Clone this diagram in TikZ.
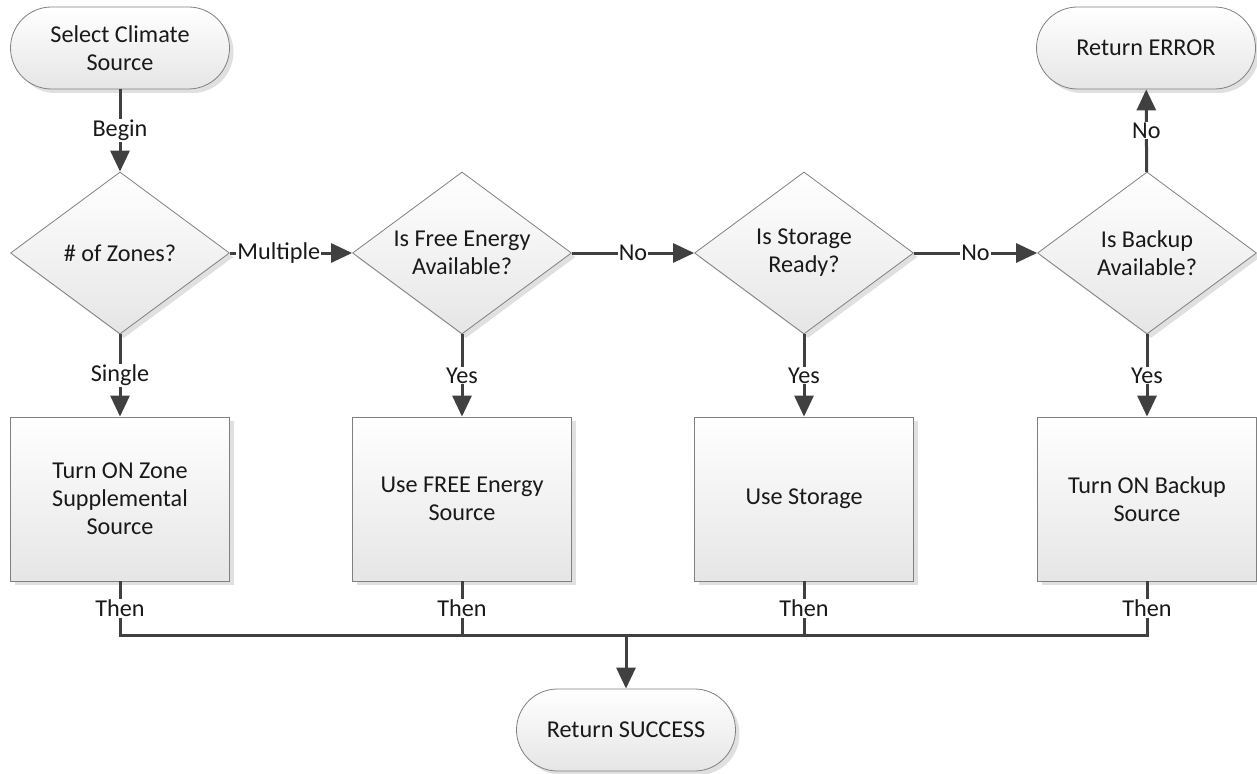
\documentclass[tikz,border=0pt]{standalone}
\usepackage{fontspec}
\setmainfont{Carlito}
\usetikzlibrary{arrows.meta,shapes.geometric,shadows,positioning}

\begin{document}
\begin{tikzpicture}[x=1pt, y=-1pt, >={Triangle[length=21pt,width=19pt]},
   every node/.style={font=\fontsize{24.2}{28}\selectfont, text=black!90},
   shape base/.style={draw=black!50, line width=0.8pt, top color=white, bottom color=black!10,
      drop shadow={shadow xshift=4pt, shadow yshift=-4pt, fill=black!12, opacity=1}},
   term/.style={shape base, rectangle, rounded corners=41pt, minimum width=219pt, minimum height=82pt, align=center},
   decision/.style={shape base, diamond, aspect=1.35, inner sep=0pt, minimum width=219pt, minimum height=162pt, align=center},
   process/.style={shape base, rectangle, minimum width=219pt, minimum height=164pt, align=center},
   flow/.style={draw=black!75, line width=3pt},
   lbl/.style={fill=white, inner sep=1pt}]
   \useasboundingbox (0,0) rectangle (1257,773);

   \node (start) at (120,48) [term] {Select Climate\\Source};
   \node (zones) at (120,253) [decision] {\# of Zones?};
   \node (free) at (462,253) [decision] {Is Free Energy\\Available?};
   \node (storage) at (804,253) [decision] {Is Storage\\Ready?};
   \node (backup) at (1147,253) [decision] {Is Backup\\Available?};
   \node (error) at (1146,48) [term] {Return ERROR};
   \node (zonesrc) at (120,499) [process] {Turn ON Zone\\Supplemental\\Source};
   \node (freesrc) at (462,499) [process] {Use FREE Energy\\Source};
   \node (storesrc) at (804,499) [process] {Use Storage};
   \node (backupsrc) at (1147,499) [process] {Turn ON Backup\\Source};
   \node (success) at (626,730) [term] {Return SUCCESS};
   \coordinate (bus) at (626,635);

   \draw[flow,->] (start) -- node[lbl]{Begin} (zones);
   \draw[flow,->] (zones) -- node[lbl,pos=0.4]{Multiple} (free);
   \draw[flow,->] (free) -- node[lbl]{No} (storage);
   \draw[flow,->] (storage) -- node[lbl]{No} (backup);
   \draw[flow,->] (backup) -- node[lbl]{No} (error);
   \draw[flow,->] (zones) -- node[lbl]{Single} (zonesrc);
   \draw[flow,->] (free) -- node[lbl]{Yes} (freesrc);
   \draw[flow,->] (storage) -- node[lbl]{Yes} (storesrc);
   \draw[flow,->] (backup) -- node[lbl]{Yes} (backupsrc);

   \draw[flow] (zonesrc.south) -- node[lbl]{Then} (zonesrc.south |- bus)
      -- (backupsrc.south |- bus) -- node[lbl]{Then} (backupsrc.south);
   \draw[flow] (freesrc.south) -- node[lbl]{Then} (freesrc.south |- bus);
   \draw[flow] (storesrc.south) -- node[lbl]{Then} (storesrc.south |- bus);
   \draw[flow,->] (bus) -- (success);

\end{tikzpicture}
\end{document}
